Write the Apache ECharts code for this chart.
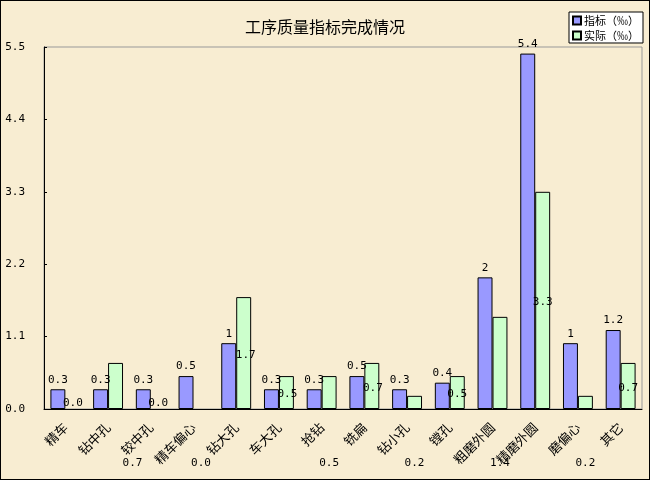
<!DOCTYPE html>
<html>
<head>
<meta charset="utf-8">
<script src="https://cdn.jsdelivr.net/npm/echarts@6/dist/echarts.min.js"></script>
<style>
html,body{margin:0;padding:0;background:#fff;}
#wrap{position:relative;width:650px;height:480px;}
#chart{width:650px;height:480px;}
#frame{position:absolute;left:0;top:0;width:648px;height:478px;border:1px solid #000;pointer-events:none;}
</style>
</head>
<body>
<div id="wrap"><div id="chart"></div><div id="frame"></div></div>
<script>
const categories = ['精车','钻中孔','较中孔','精车偏心','钻大孔','车大孔','抢钻','铣扁','钻小孔','镗孔','粗磨外圆','精磨外圆','磨偏心','其它'];
const targetValues = [0.3, 0.3, 0.3, 0.5, 1, 0.3, 0.3, 0.5, 0.3, 0.4, 2, 5.4, 1, 1.2];
const actualValues = [0.0, 0.7, 0.0, 0.0, 1.7, 0.5, 0.5, 0.7, 0.2, 0.5, 1.4, 3.3, 0.2, 0.7];
const yTicks = [0, 1.1, 2.2, 3.3, 4.4, 5.5];
const seriesNames = ['指标（‰）', '实际（‰）'];

// label placement style for the "actual" series (as in the reference)
const actualLabelPlace = ['top','below','top','below','inside','inside','below','inside','below','inside','below','inside','below','inside'];
const actualLabelDx = [0,17,0,0,2,1,0,1,0,0,0,0,0,0];

const numFont = 'DejaVu Sans Mono';
const cjkFont = 'Noto Sans CJK SC';

const actualData = actualValues.map((v, i) => {
  const place = actualLabelPlace[i];
  let label;
  if (place === 'top') label = {position: 'top', distance: 0, offset: [actualLabelDx[i], 0]};
  else if (place === 'below') label = {position: 'bottom', distance: 5, offset: [actualLabelDx[i], 44]};
  else label = {position: 'inside', offset: [actualLabelDx[i], 2]};
  const item = {value: v, label: label};
  if (v === 0) item.itemStyle = {borderWidth: 0};
  return item;
});

const chart = echarts.init(document.getElementById('chart'));
chart.setOption({
  backgroundColor: '#f8edd2',
  animation: false,
  title: {
    text: '工序质量指标完成情况',
    left: 'center',
    top: 14,
    textStyle: {fontFamily: cjkFont, fontSize: 16, fontWeight: 'normal', color: '#000'}
  },
  legend: {
    orient: 'vertical',
    right: 7,
    top: 12,
    backgroundColor: '#fff',
    borderColor: '#000',
    borderWidth: 1,
    padding: [3, 4, 2, 3],
    itemWidth: 8,
    itemHeight: 8,
    itemGap: 4,
    icon: 'rect',
    textStyle: {fontFamily: cjkFont, fontSize: 11, color: '#000', padding: [0, 0, 0, -2]},
    data: seriesNames
  },
  grid: {
    left: 44, right: 8, top: 47, bottom: 71,
    show: true, borderColor: '#999', borderWidth: 1, backgroundColor: 'transparent'
  },
  xAxis: {
    type: 'category',
    data: categories,
    axisLine: {lineStyle: {color: '#000', width: 1}},
    axisTick: {inside: true, length: 3, lineStyle: {color: '#000'}},
    axisLabel: {rotate: 45, margin: 16, interval: 0, fontFamily: cjkFont, fontSize: 13, color: '#000'}
  },
  yAxis: {
    type: 'value',
    min: 0, max: 5.5, interval: 1.1,
    splitLine: {show: false},
    axisLine: {show: true, lineStyle: {color: '#000', width: 1}},
    axisTick: {show: true, inside: true, length: 3, lineStyle: {color: '#000'}},
    axisLabel: {margin: 19, fontFamily: numFont, fontSize: 11, color: '#000',
      formatter: v => yTicks.some(t => Math.abs(t - v) < 1e-6) ? v.toFixed(1) : ''}
  },
  series: [
    {
      name: seriesNames[0],
      type: 'bar',
      data: targetValues,
      barGap: '0%',
      barCategoryGap: '30%',
      itemStyle: {color: '#9999ff', borderColor: '#000', borderWidth: 1},
      label: {show: true, position: 'top', distance: 4, fontFamily: numFont, fontSize: 11, color: '#000'}
    },
    {
      name: seriesNames[1],
      type: 'bar',
      data: actualData,
      barGap: '0%',
      barCategoryGap: '30%',
      itemStyle: {color: '#ccffcc', borderColor: '#000', borderWidth: 1},
      label: {show: true, fontFamily: numFont, fontSize: 11, color: '#000',
        formatter: p => Number(p.value).toFixed(1)}
    }
  ]
});
</script>
</body>
</html>
